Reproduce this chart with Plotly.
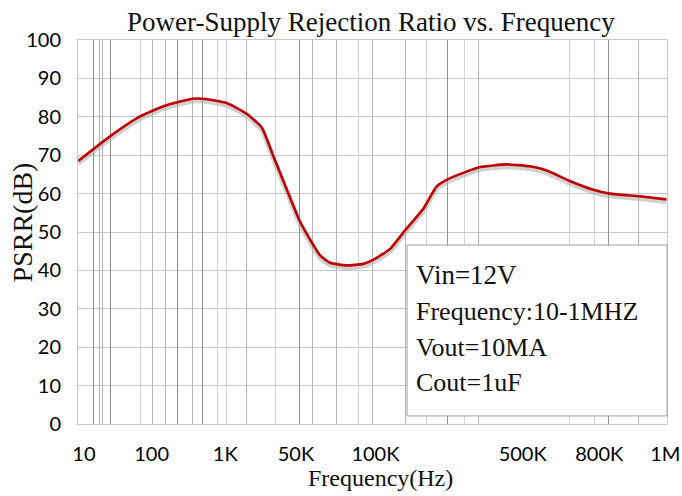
import plotly.graph_objects as go

# Axis position units (0..100 across the frequency axis, non-uniform scale as in the original)
tick_pos = [1.0, 12.5, 25.0, 37.0, 50.5, 75.5, 88.5, 99.7]
tick_text = ["10", "100", "1K", "50K", "100K", "500K", "800K", "1M"]

grid_light = [10.53, 23.60, 25.13, 33.45, 47.54, 59.25, 65.70, 83.53, 87.61]
grid_medium = [3.57, 4.24, 12.73, 14.77, 19.52, 28.69, 39.73, 43.97, 50.08, 55.52, 68.08, 95.08]
grid_dark = [2.55, 5.60, 16.81, 21.22, 37.69, 62.65, 90.15]

# PSRR curve
curve_pos = [0.05, 5.43, 10.53, 14.77, 19.47, 21.17, 25.25, 28.64, 31.19, 33.16,
             37.6, 38.5, 41.1, 42.8, 45.6, 48.4, 50.4, 53.0, 55.5, 58.6, 60.9, 62.6,
             65.4, 68.3, 72.8, 76.7, 79.6, 83.5, 87.5, 90.3, 95.4, 99.9]
psrr_db = [68.5, 74.9, 80.1, 82.9, 84.7, 84.7, 83.6, 80.8, 77.2, 69.8,
           53.0, 50.4, 43.9, 42.0, 41.3, 41.7, 43.0, 45.6, 50.4, 56.0, 61.9, 63.6,
           65.4, 66.9, 67.6, 67.1, 66.0, 63.3, 61.0, 60.0, 59.3, 58.5]

y_ticks = list(range(0, 101, 10))

info_lines = ["Vin=12V", "Frequency:10-1MHZ", "Vout=10MA", "Cout=1uF"]
info_sizes = [27, 26, 26, 26]
info_y = [0.388, 0.292, 0.2005, 0.109]

serif = "Liberation Serif, Times New Roman, serif"
sans = "Lato, Open Sans, sans-serif"

fig = go.Figure()

# helper traces so overlay axes get drawn
fig.add_trace(go.Scatter(x=[None], y=[None], xaxis="x2", showlegend=False, hoverinfo="skip"))
fig.add_trace(go.Scatter(x=[None], y=[None], xaxis="x3", showlegend=False, hoverinfo="skip"))

# soft shadow under curve
fig.add_trace(go.Scatter(
    x=curve_pos, y=[v - 0.6 for v in psrr_db], mode="lines",
    line=dict(color="rgba(170,170,170,0.55)", width=5, shape="spline", smoothing=0.5),
    showlegend=False, hoverinfo="skip"))
fig.add_trace(go.Scatter(
    x=curve_pos, y=psrr_db, mode="lines",
    line=dict(color="#c00000", width=2.6, shape="spline", smoothing=0.5),
    showlegend=False))

fig.update_layout(
    width=682, height=496,
    margin=dict(l=78, r=15, t=40, b=72),
    paper_bgcolor="white", plot_bgcolor="white",
    showlegend=False,
    xaxis=dict(
        range=[0, 100], tickmode="array", tickvals=tick_pos, ticktext=tick_text,
        showgrid=False, zeroline=False, ticks="", automargin=False,
        tickfont=dict(family=sans, size=20, color="#000"),
        ticklabelstandoff=12,
        showline=True, linecolor="#c8c8c8", linewidth=1, mirror=True,
        minor=dict(tickmode="array", tickvals=grid_light, showgrid=True,
                   gridcolor="#d6d6d6", gridwidth=1, ticks=""),
    ),
    xaxis2=dict(
        range=[0, 100], overlaying="x", anchor="y", matches="x", automargin=False,
        tickmode="array", tickvals=grid_medium, showticklabels=False, ticks="",
        showgrid=True, gridcolor="#b4b4b4", gridwidth=1, zeroline=False,
    ),
    xaxis3=dict(
        range=[0, 100], overlaying="x", anchor="y", matches="x", automargin=False,
        tickmode="array", tickvals=grid_dark, showticklabels=False, ticks="",
        showgrid=True, gridcolor="#909090", gridwidth=1, zeroline=False,
    ),
    yaxis=dict(
        range=[0, 100], tickmode="array", tickvals=y_ticks, automargin=False,
        showgrid=True, gridcolor="#c8c8c8", gridwidth=1, zeroline=False, ticks="",
        tickfont=dict(family=sans, size=20, color="#000"),
        ticklabelstandoff=12,
        showline=True, linecolor="#c8c8c8", linewidth=1, mirror=True,
    ),
)

# legend/info box
fig.add_shape(type="rect", xref="paper", yref="paper",
              x0=0.5586, x1=1.0, y0=0.021, y1=0.466,
              fillcolor="white", line=dict(color="#a0a0a0", width=1), layer="above")

for txt, sz, yy in zip(info_lines, info_sizes, info_y):
    fig.add_annotation(text=txt, xref="paper", yref="paper", x=0.570, y=yy,
                       xanchor="left", yanchor="middle", showarrow=False,
                       font=dict(family=serif, size=sz, color="#111"))

# titles
fig.add_annotation(text="Power-Supply Rejection Ratio vs. Frequency", xref="paper", yref="paper",
                   x=0.4975, y=1.047, xanchor="center", yanchor="middle", showarrow=False,
                   font=dict(family=serif, size=27, color="#111"))
fig.add_annotation(text="PSRR(dB)", xref="paper", yref="paper", x=-0.095, y=0.525,
                   xanchor="center", yanchor="middle", showarrow=False, textangle=-90,
                   font=dict(family=serif, size=28, color="#111"))
fig.add_annotation(text="Frequency(Hz)", xref="paper", yref="paper", x=0.513, y=-0.141,
                   xanchor="center", yanchor="middle", showarrow=False,
                   font=dict(family=serif, size=24, color="#111"))

fig.write_html("out.html",
               config={"displayModeBar": False},
               post_script="document.body.style.margin='0';document.body.style.overflow='hidden';")
